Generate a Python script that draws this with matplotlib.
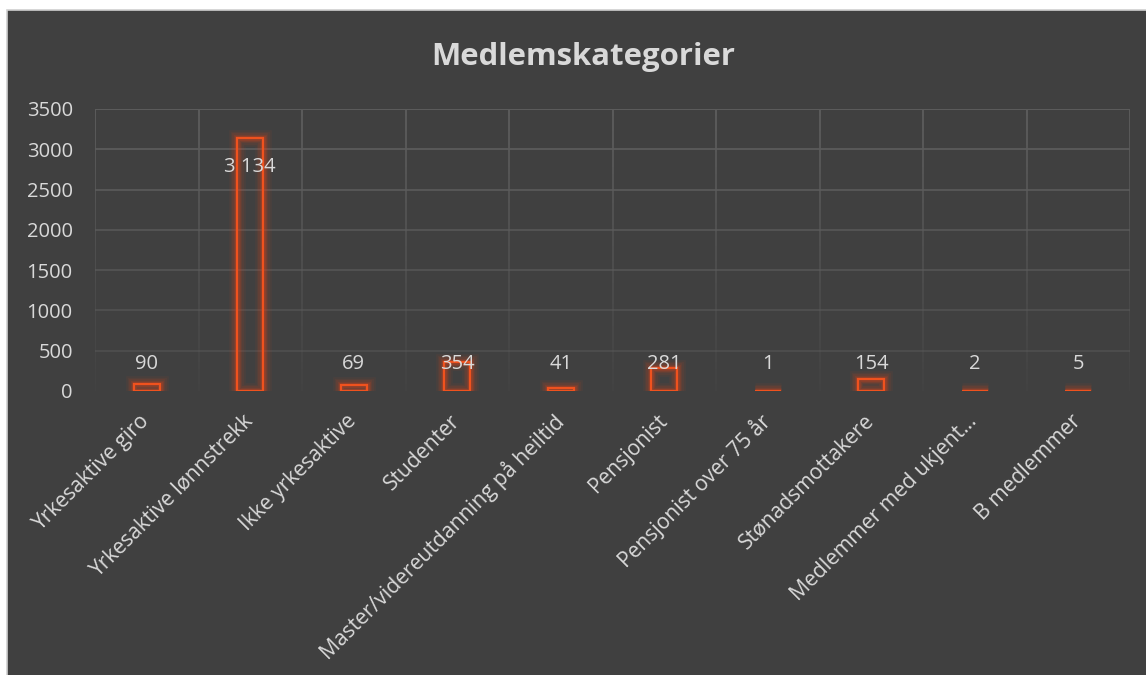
import matplotlib.pyplot as plt
from matplotlib.patches import Rectangle
from matplotlib.transforms import ScaledTranslation
import numpy as np

# data
categories = ["Yrkesaktive giro", "Yrkesaktive lønnstrekk", "Ikke yrkesaktive",
              "Studenter", "Master/videreutdanning på heiltid", "Pensjonist",
              "Pensjonist over 75 år", "Stønadsmottakere",
              "Medlemmer med ukjent…", "B medlemmer"]
values = [90, 3134, 69, 354, 41, 281, 1, 154, 2, 5]
labels = ["90", "3 134", "69", "354", "41", "281", "1", "154", "2", "5"]

plt.rcParams['font.family'] = ['Open Sans', 'DejaVu Sans']
bg = "#404040"
txt = "#d9d9d9"
bar_col = "#f0521e"

W, H = 1146, 675
fig = plt.figure(figsize=(W / 100, H / 100), dpi=100, facecolor="white")
# dark chart area with thin frame
fig.patches.append(Rectangle((7 / W, -0.1), 1, 1.1 - 10 / H, transform=fig.transFigure,
                             facecolor=bg, edgecolor="#d0d0d0", linewidth=1.2, zorder=-5))

ax = fig.add_axes([95 / W, 1 - 391 / H, (1130 - 95) / W, (391 - 109) / H])
ax.set_facecolor(bg)
ax.patch.set_alpha(0)

x = np.arange(len(categories))
ax.set_xlim(-0.5, len(categories) - 0.5)
ax.set_ylim(0, 3500)
ax.set_yticks(range(0, 3501, 500))

# gridlines fading toward the bottom
for yv in range(500, 3501, 500):
    a = 0.35 + 0.65 * yv / 3500
    ax.axhline(yv, color="#5c5c5c", alpha=a, linewidth=1.4, zorder=1)
ys = np.linspace(0, 3500, 40)
for xv in np.arange(-0.5, len(categories), 1):
    for i in range(len(ys) - 1):
        a = 0.1 + 0.9 * ys[i] / 3500
        ax.plot([xv, xv], [ys[i], ys[i + 1]], color="#5c5c5c", alpha=a,
                linewidth=1.4, zorder=1, solid_capstyle="butt")

# glow behind the bars
for lw, al in [(12, 0.06), (9.5, 0.08), (7, 0.11), (5, 0.15), (3.5, 0.2)]:
    ax.bar(x, values, width=0.25, facecolor="none", edgecolor="#e0421a",
           linewidth=lw, alpha=al, zorder=2)
ax.bar(x, values, width=0.25, facecolor="none", edgecolor=bar_col,
       linewidth=1.6, zorder=3)

for xi, v, lab in zip(x, values, labels):
    yl = v - 350 if v > 1000 else 330
    ax.text(xi, yl, lab, ha="center", va="center", color=txt, fontsize=14.5, zorder=4)

for s in ax.spines.values():
    s.set_visible(False)
ax.tick_params(axis="both", length=0, colors=txt, labelsize=14.5)
ax.tick_params(axis="y", pad=16)
ax.set_xticks(x)
ax.set_xticklabels(categories, rotation=45, ha="right", va="top", rotation_mode="anchor",
                   fontsize=15.2)
ax.tick_params(axis="x", pad=14)
for t in ax.get_xticklabels():
    t.set_transform(t.get_transform() + ScaledTranslation(-0.08, 0, fig.dpi_scale_trans))

fig.text(583 / W, 1 - 57 / H, "Medlemskategorier", ha="center", va="center",
         color=txt, fontsize=22.4, fontweight="bold")

fig.savefig("out.png", dpi=100, facecolor="white")
